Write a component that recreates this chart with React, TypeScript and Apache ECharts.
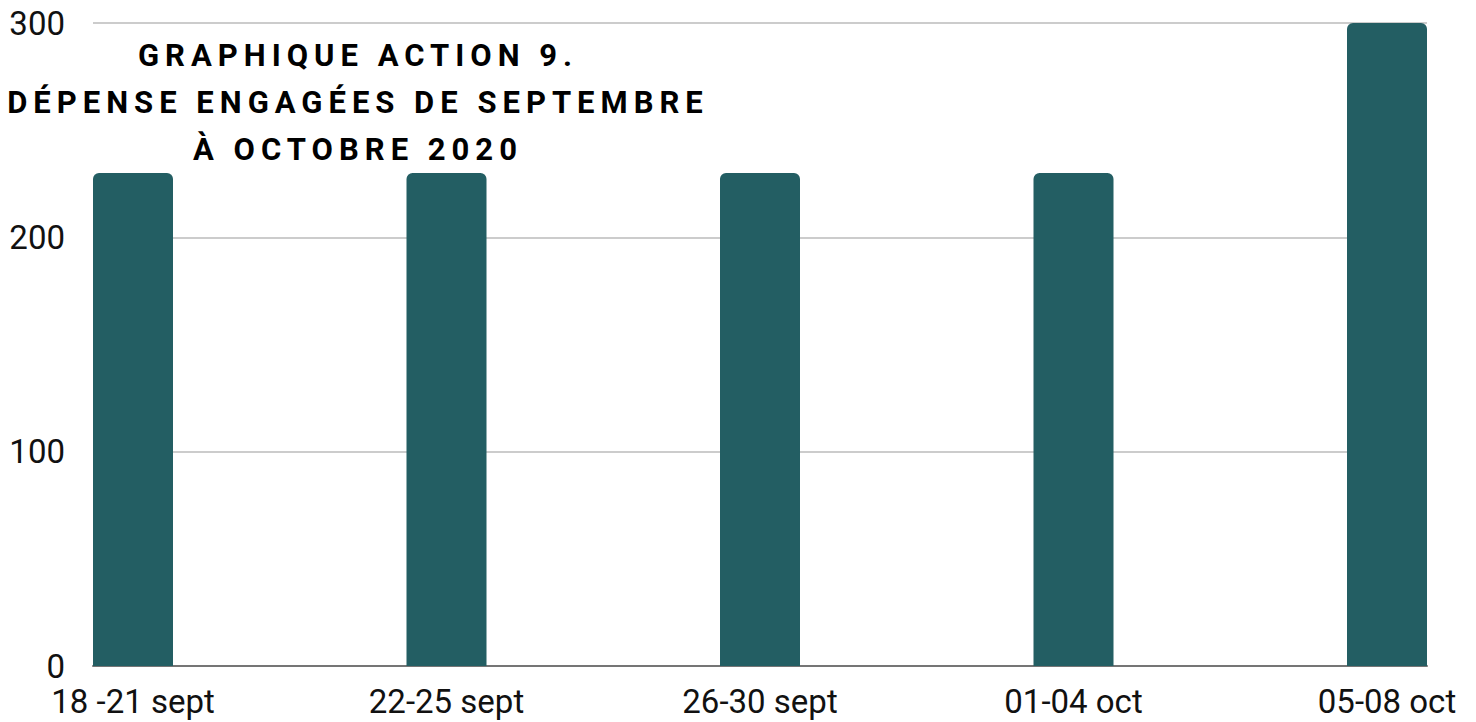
import React, { useEffect, useRef } from "react";
import * as echarts from "echarts";

const categories = ["18 -21 sept", "22-25 sept", "26-30 sept", "01-04 oct", "05-08 oct"];
const values = [230, 230, 230, 230, 300];
const yTicks = { min: 0, max: 300, interval: 100 };
const titleLines = ["GRAPHIQUE ACTION 9.", "DÉPENSE ENGAGÉES DE SEPTEMBRE", "À OCTOBRE 2020"];

export default function App() {
  const ref = useRef<HTMLDivElement>(null);
  useEffect(() => {
    document.body.style.margin = "0";
    const chart = echarts.init(ref.current!, undefined, { renderer: "svg" });
    const font = "Roboto";
    chart.setOption({
      animation: false,
      backgroundColor: "#ffffff",
      grid: [
        { left: 93, right: 49, top: 23, bottom: 56 },
        { left: 133, right: 89, top: 23, bottom: 56 },
      ],
      xAxis: [
        {
          gridIndex: 0,
          type: "value",
          min: 0,
          max: 1,
          axisLabel: { show: false },
          axisTick: { show: false },
          splitLine: { show: false },
          axisLine: { show: true, lineStyle: { color: "#757575", width: 2 } },
        },
        {
          gridIndex: 1,
          type: "category",
          data: categories,
          boundaryGap: false,
          axisLine: { show: false },
          axisTick: { show: false },
          axisLabel: { fontFamily: font, fontSize: 33, color: "#111", margin: 19, interval: 0 },
        },
      ],
      yAxis: [
        {
          gridIndex: 0,
          type: "value",
          ...yTicks,
          axisLine: { show: false },
          axisTick: { show: false },
          axisLabel: { fontFamily: font, fontSize: 33, color: "#111", margin: 28 },
          splitLine: { lineStyle: { color: "#cccccc", width: 2 } },
        },
        {
          gridIndex: 1,
          type: "value",
          ...yTicks,
          show: false,
          splitLine: { show: false },
        },
      ],
      series: [
        {
          type: "bar",
          xAxisIndex: 1,
          yAxisIndex: 1,
          data: values,
          barWidth: 80,
          clip: false,
          itemStyle: { color: "#235E63", borderRadius: [6, 6, 0, 0] },
        },
      ],
      graphic: [
        {
          type: "text",
          x: 358,
          y: 32,
          z: 100,
          style: {
            text: titleLines.join("\n"),
            fill: "#000000",
            font: `bold 31px ${font}`,
            textAlign: "center",
            textVerticalAlign: "top",
            lineHeight: 47,
          },
        },
      ],
    });
    // letter spacing for the title lines (SVG attribute)
    const dom = chart.getDom();
    dom.querySelectorAll("text").forEach((t) => {
      const s = (t.textContent || "").trim();
      if (titleLines.includes(s)) {
        t.setAttribute("letter-spacing", "6");
      }
    });
    return () => chart.dispose();
  }, []);
  return <div ref={ref} style={{ position: "absolute", left: 0, top: 0, width: 1476, height: 722 }} />;
}
